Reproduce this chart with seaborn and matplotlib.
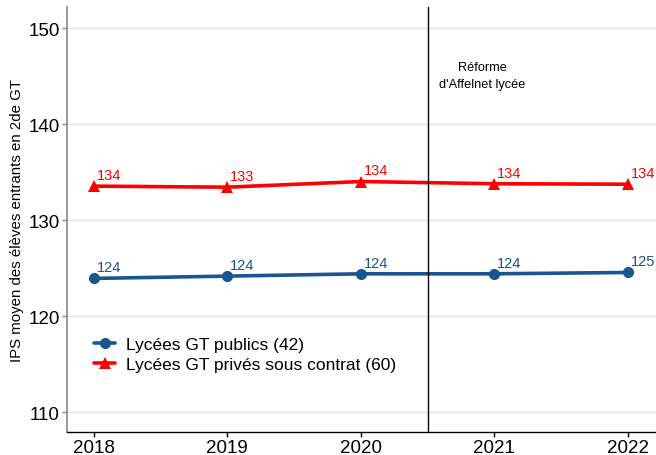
import matplotlib
matplotlib.use("Agg")
import matplotlib.pyplot as plt
import seaborn as sns
import pandas as pd

years = [2018, 2019, 2020, 2021, 2022]
publics = [123.93, 124.17, 124.41, 124.41, 124.55]
prives = [133.55, 133.44, 134.03, 133.80, 133.75]
series_names = ["Lycées GT publics (42)", "Lycées GT privés sous contrat (60)"]
series_colors = ["#1a5590", "#ff0000"]
y_ticks = [110, 120, 130, 140, 150]

df = pd.DataFrame({
    "annee": years * 2,
    "ips": publics + prives,
    "secteur": [series_names[0]] * len(years) + [series_names[1]] * len(years),
})

sns.set_theme(style="white")
plt.rcParams["font.family"] = ["Liberation Sans", "DejaVu Sans"]
plt.rcParams["text.color"] = "black"
plt.rcParams["axes.labelcolor"] = "black"
plt.rcParams["xtick.color"] = "black"
plt.rcParams["ytick.color"] = "black"

fig, ax = plt.subplots(figsize=(6.56, 4.56), dpi=100)
fig.subplots_adjust(left=0.102, right=1.0, top=0.982, bottom=0.05)

palette = dict(zip(series_names, series_colors))
sns.lineplot(data=df, x="annee", y="ips", hue="secteur", style="secteur",
             markers={series_names[0]: "o", series_names[1]: "^"},
             dashes=False, palette=palette, linewidth=2.6, markersize=8,
             markeredgewidth=0, ax=ax)

for name, vals in zip(series_names, [publics, prives]):
    for x, v in zip(years, vals):
        ax.annotate(f"{v:.0f}", (x, v), xytext=(2, 3), textcoords="offset points",
                    ha="left", va="bottom", fontsize=10.5, color=palette[name])

ax.axvline(2020.5, color="black", linewidth=1)
ax.text(2020.91, 145.1, "Réforme\nd'Affelnet lycée", ha="center", va="center",
        fontsize=9.2, linespacing=1.55, color="black")

ax.set_xlim(2017.8, 2022.21)
ax.set_ylim(107.9, 152.2)
ax.set_xticks(years)
ax.set_yticks(y_ticks)
ax.set_xlabel("")
ax.set_ylabel("IPS moyen des élèves entrants en 2de GT", fontsize=10.8, labelpad=3)
ax.tick_params(axis="both", labelsize=13.5, length=3.5, width=1, direction="out",
               bottom=True, left=True, pad=1.5, labelcolor="black")
ax.tick_params(axis="y", color="#888888")
ax.grid(axis="y", color="#e5e5e5", linewidth=1)
ax.grid(axis="x", visible=False)

for side in ["top", "right"]:
    ax.spines[side].set_visible(False)
ax.spines["left"].set_color("#888888")
ax.spines["left"].set_linewidth(1.2)
ax.spines["bottom"].set_color("black")
ax.spines["bottom"].set_linewidth(1)

leg = ax.legend(title=None, loc="lower left", bbox_to_anchor=(0.02, 0.105),
                frameon=False, fontsize=12.5, handlelength=1.2,
                handletextpad=0.6, labelspacing=0.3)
for t in leg.get_texts():
    t.set_color("black")

fig.savefig("out.png", dpi=100)
